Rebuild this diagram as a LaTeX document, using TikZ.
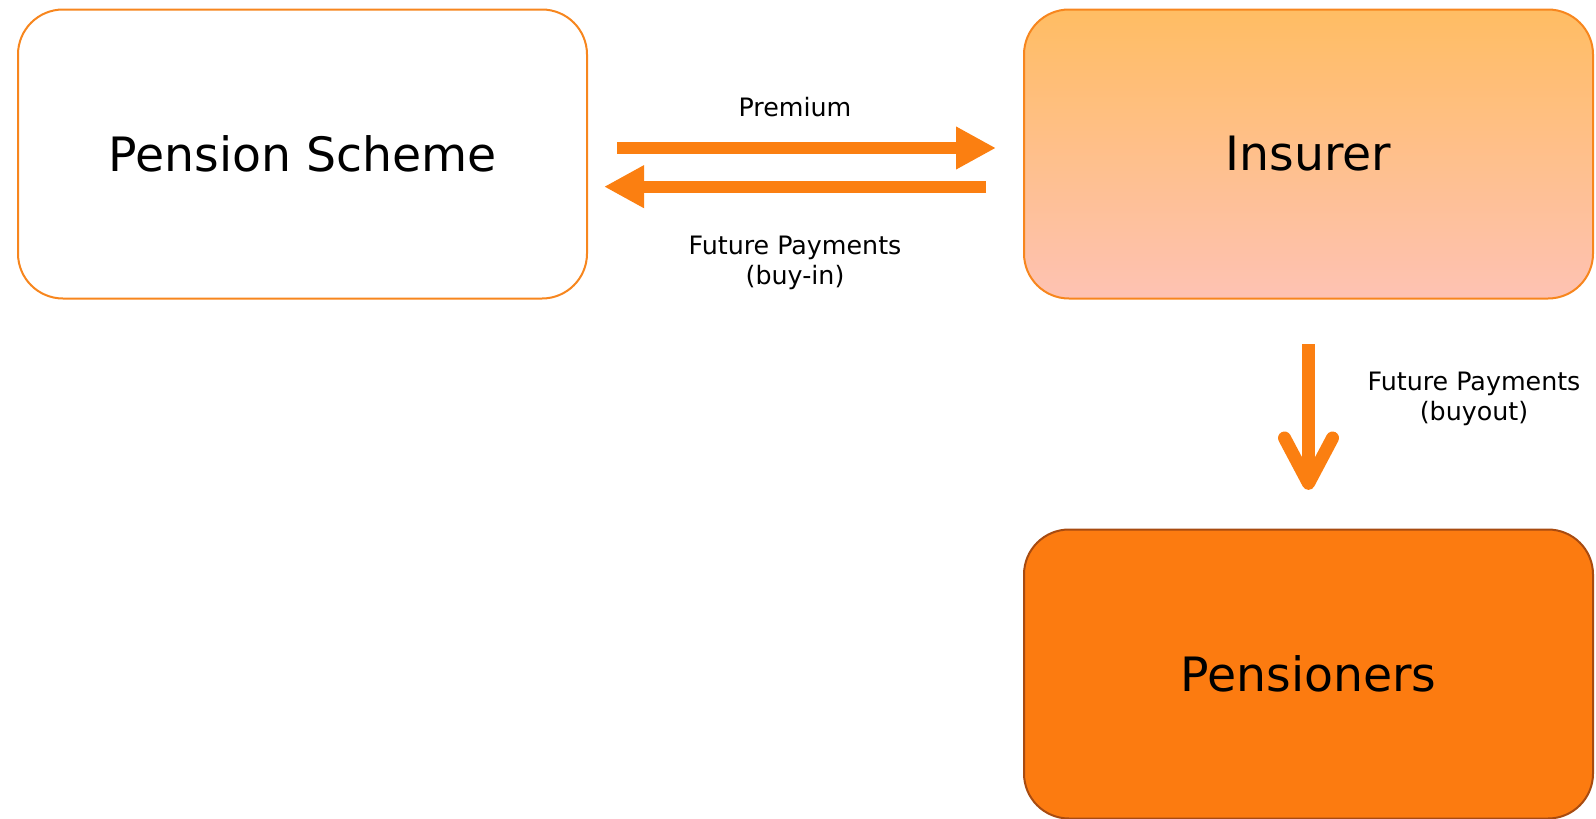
\documentclass[tikz,border=0pt]{standalone}
\usepackage{fontspec}
\setmainfont{DejaVu Sans}
\usetikzlibrary{arrows.meta}

\definecolor{flowOrange}{RGB}{251,127,17}
\definecolor{edgeOrange}{RGB}{247,134,30}
\definecolor{insTop}{RGB}{255,189,99}
\definecolor{insBottom}{RGB}{254,194,179}
\definecolor{penFill}{RGB}{252,123,16}
\definecolor{penEdge}{RGB}{168,75,16}

\tikzset{
  party/.style={rectangle, rounded corners=33.75pt, line width=1.5pt,
    minimum width=426.75pt, minimum height=216.75pt,
    font=\fontsize{35.5}{42}\selectfont},
  lbl/.style={align=center, font=\fontsize{19}{22.5}\selectfont},
  flow/.style={draw=flowOrange, line width=9pt,
    -{Triangle[length=30pt,width=30pt]}},
  payout/.style={draw=flowOrange, line width=9.75pt,
    -{Straight Barb[round,length=34pt,width=36pt]}}
}

\begin{document}
\begin{tikzpicture}[x=0.75pt, y=-0.75pt, line join=round]
				\useasboundingbox (0,0) rectangle (1596,818);
				
				% Các bên
				\node[party, draw=edgeOrange, fill=white] (scheme) at (302.5,154) {Pension Scheme};
				\node[party, draw=edgeOrange, top color=insTop, bottom color=insBottom] (insurer) at (1308.5,154) {Insurer};
				\node[party, draw=penEdge, fill=penFill] (pensioners) at (1308.5,674) {Pensioners};
				
				% Dòng tiền
				\draw[flow] ([xshift=21.75pt,yshift=4.5pt]scheme.east) -- ([xshift=-20.25pt,yshift=4.5pt]insurer.west);
				\draw[flow] ([xshift=-27.75pt,yshift=-24.5pt]insurer.west) -- ([xshift=12pt,yshift=-24.5pt]scheme.east);
				\draw[payout] ([yshift=-33.5pt]insurer.south) -- ([yshift=29pt]pensioners.north);
				
				% Nhãn
				\node[lbl] (premium) at (795,107) {Premium};
				\node[lbl] (buyin) at (795,263) {Future Payments\\(buy-in)};
				\node[lbl] (buyout) at (1474,399) {Future Payments\\(buyout)};
			\end{tikzpicture}
\end{document}
